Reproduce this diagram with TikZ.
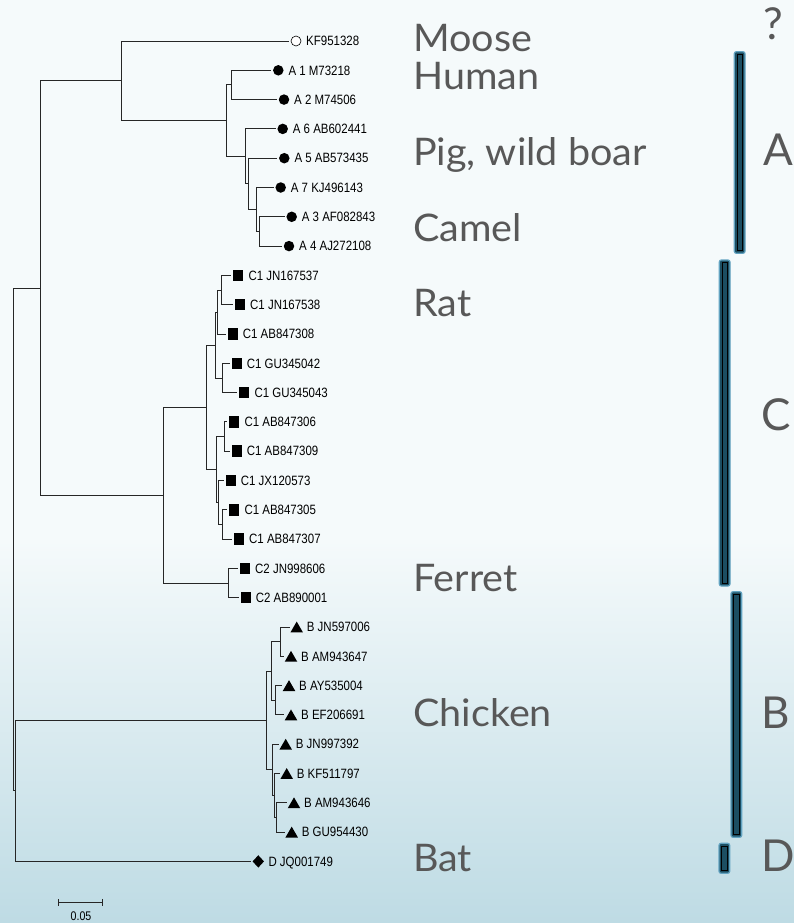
\documentclass[tikz,border=0pt]{standalone}
\usepackage{fontspec}
\setmainfont{Lato}
\newfontfamily\hostfont[FakeStretch=1.04]{Lato}
\newfontfamily\leaffont[FakeStretch=0.85]{Liberation Sans}
\usepackage{xcolor}
\usepackage{tikz}
\usetikzlibrary{shapes.geometric,arrows.meta,positioning}
\definecolor{bgtop}{RGB}{245,250,251}
\definecolor{bgbot}{RGB}{190,219,228}
\definecolor{namegray}{RGB}{88,88,88}
\definecolor{barrim}{RGB}{98,163,193}
\definecolor{barfill}{RGB}{28,78,98}
\tikzset{
  branch/.style={line width=0.9pt, black!85},
  leaflab/.style={font=\leaffont\fontsize{13.5}{14}\selectfont, inner sep=0pt, text depth=0pt},
  scalelab/.style={font=\leaffont\fontsize{12.5}{13}\selectfont, inner sep=0pt},
  dotmark/.style={circle, fill=black, inner sep=0pt, minimum size=10.5pt},
  opendot/.style={circle, draw=black, line width=0.6pt, fill=white, inner sep=0pt, minimum size=10pt},
  sqmark/.style={rectangle, fill=black, inner sep=0pt, minimum width=10pt, minimum height=11.5pt},
  trimark/.style={regular polygon, regular polygon sides=3, fill=black, inner sep=0pt, minimum size=14.5pt, yshift=-1.8pt},
  diamark/.style={diamond, fill=black, inner sep=0pt, minimum width=11.5pt, minimum height=12.5pt},
  hostlab/.style={font=\hostfont\fontsize{38}{38}\selectfont, text=namegray, anchor=base west, inner sep=0pt},
  typelab/.style={font=\fontsize{44}{44}\selectfont, text=namegray, anchor=base west, inner sep=0pt},
  cladebar/.style={rounded corners=2pt, draw=barrim, line width=1.2pt, fill=barfill}
}

\begin{document}
\begin{tikzpicture}[x=1pt, y=-1pt]
\useasboundingbox (0,0) rectangle (794,923);

% Background wash
\fill[bgtop] (0,0) rectangle (794,923);
\shade[top color=bgtop, bottom color=bgbot] (0,540) rectangle (794,923);

% Internal nodes: x / row (row = mean of the children's rows)
\foreach \nm/\nx/\nr in {root/13.3/17.0117, up/40.7/8.4297, low/15.7/25.5938,
  mooseA/121/1.3594, nA/226.7/2.7188, nA12/231.3/1.5, nA6/245.7/3.9375,
  nA5/248.3/4.875, nA7/256/5.75, nA34/259.3/6.5,
  nC/163.3/15.5, nC1/206.3/12.5, nC1a/215.7/10.375, nJN8/217.7/9.25, nJN/221/8.5,
  nGU/222.7/11.5, nC1b/216.7/14.625, nAB69/224/13.5, nJX/218.3/15.75, nAB57/222.7/16.5,
  nC2/228.7/18.5,
  nB/266.3/23.1875, nB1/271.7/21.5, nBp1/280/20.5, nBp2/275/22.5,
  nB2/272.7/24.875, nB3/274.3/25.75, nBp3/276.5/26.5}
  \coordinate (\nm) at (\nx, {41+29.3*\nr});

% Moose
\coordinate (kf) at (289, 41);
\node[opendot] (mkf) at ([xshift=7pt]kf) {};
\node[leaflab, right=17pt of kf] (lkf) {KF951328};

% Genotype A
\foreach \nm/\tx/\row/\lab in {a1/271.3/1/A 1 M73218, a2/277/2/A 2 M74506,
  a6/275.7/3/A 6 AB602441, a5/277.3/4/A 5 AB573435, a7/273.7/5/A 7 KJ496143,
  a3/284.7/6/A 3 AF082843, a4/282/7/A 4 AJ272108}{
  \coordinate (\nm) at (\tx, {41+29.3*\row});
  \node[dotmark] (m\nm) at ([xshift=7pt]\nm) {};
  \node[leaflab, right=17pt of \nm] (l\nm) {\lab};
}

% Genotype C
\foreach \nm/\tx/\row/\lab in {jn537/231.3/8/C1 JN167537, jn538/233/9/C1 JN167538,
  ab308/225.7/10/C1 AB847308, gu042/229.7/11/C1 GU345042, gu043/237.3/12/C1 GU345043,
  ab306/227.3/13/C1 AB847306, ab309/229.7/14/C1 AB847309, jx573/223.7/15/C1 JX120573,
  ab305/227.3/16/C1 AB847305, ab307/232/17/C1 AB847307,
  c2jn/238/18/C2 JN998606, c2ab/238.7/19/C2 AB890001}{
  \coordinate (\nm) at (\tx, {41+29.3*\row});
  \node[sqmark] (m\nm) at ([xshift=7pt]\nm) {};
  \node[leaflab, right=17pt of \nm] (l\nm) {\lab};
}

% Genotype B
\foreach \nm/\tx/\row/\lab in {bjn006/289.7/20/B JN597006, bam647/284/21/B AM943647,
  bay004/282/22/B AY535004, bef691/284/23/B EF206691, bjn392/278.7/24/B JN997392,
  bkf797/279.7/25/B KF511797, bam646/287/26/B AM943646, bgu430/284.7/27/B GU954430}{
  \coordinate (\nm) at (\tx, {41+29.3*\row});
  \node[trimark] (m\nm) at ([xshift=7pt]\nm) {};
  \node[leaflab, right=17pt of \nm] (l\nm) {\lab};
}

% Genotype D
\coordinate (djq) at (251.3, {41+29.3*28});
\node[diamark] (mdjq) at ([xshift=7pt]djq) {};
\node[leaflab, right=17pt of djq] (ldjq) {D JQ001749};

% Branches
\foreach \p/\c in {root/up, root/low, up/mooseA, up/nC, mooseA/kf, mooseA/nA,
  nA/nA12, nA/nA6, nA12/a1, nA12/a2, nA6/a6, nA6/nA5, nA5/a5, nA5/nA7,
  nA7/a7, nA7/nA34, nA34/a3, nA34/a4,
  nC/nC1, nC/nC2, nC1/nC1a, nC1/nC1b, nC1a/nJN8, nC1a/nGU, nJN8/nJN, nJN8/ab308,
  nJN/jn537, nJN/jn538, nGU/gu042, nGU/gu043, nC1b/nAB69, nC1b/nJX,
  nAB69/ab306, nAB69/ab309, nJX/jx573, nJX/nAB57, nAB57/ab305, nAB57/ab307,
  nC2/c2jn, nC2/c2ab,
  low/nB, low/djq, nB/nB1, nB/nB2, nB1/nBp1, nB1/nBp2, nBp1/bjn006, nBp1/bam647,
  nBp2/bay004, nBp2/bef691, nB2/bjn392, nB2/nB3, nB3/bkf797, nB3/nBp3,
  nBp3/bam646, nBp3/bgu430}
  \draw[branch] (\p) |- (\c);

% Scale bar
\coordinate (sbl) at (58.3, 902.3);
\coordinate (sbr) at (103.3, 902.3);
\draw[branch, {Bar[width=7pt]}-{Bar[width=7pt]}] (sbl) -- (sbr);
\node[scalelab] (sblab) at (81, 916) {0.05};

% Host names
\node[hostlab] (moose)   at (413, 51.7)  {Moose};
\node[hostlab] (human)   at (413, 90)    {Human};
\node[hostlab] (pig)     at (413, 165)   {Pig, wild boar};
\node[hostlab] (camel)   at (413, 241.7) {Camel};
\node[hostlab] (rat)     at (413, 316.7) {Rat};
\node[hostlab] (ferret)  at (413, 591.7) {Ferret};
\node[hostlab] (chicken) at (413, 726.7) {Chicken};
\node[hostlab] (bat)     at (413, 871.7) {Bat};

% Genotype bars
\foreach \bx/\ty/\by in {734.3/51.7/253.3, 719.3/260/586, 731/591.7/837.3, 719/843.3/873.3}{
  \draw[cladebar] (\bx,\ty) rectangle (\bx+10.7,\by);
  \draw[black, line width=0.8pt] (\bx+2.6,\ty+2.6) rectangle (\bx+8.1,\by-2.6);
}

% Genotype letters
\node[typelab] (tq) at (763, 40)    {?};
\node[typelab] (tA) at (763, 165.7) {A};
\node[typelab] (tC) at (761, 430)   {C};
\node[typelab] (tB) at (761, 728.3) {B};
\node[typelab] (tD) at (761, 871.7) {D};

\end{tikzpicture}
\end{document}
